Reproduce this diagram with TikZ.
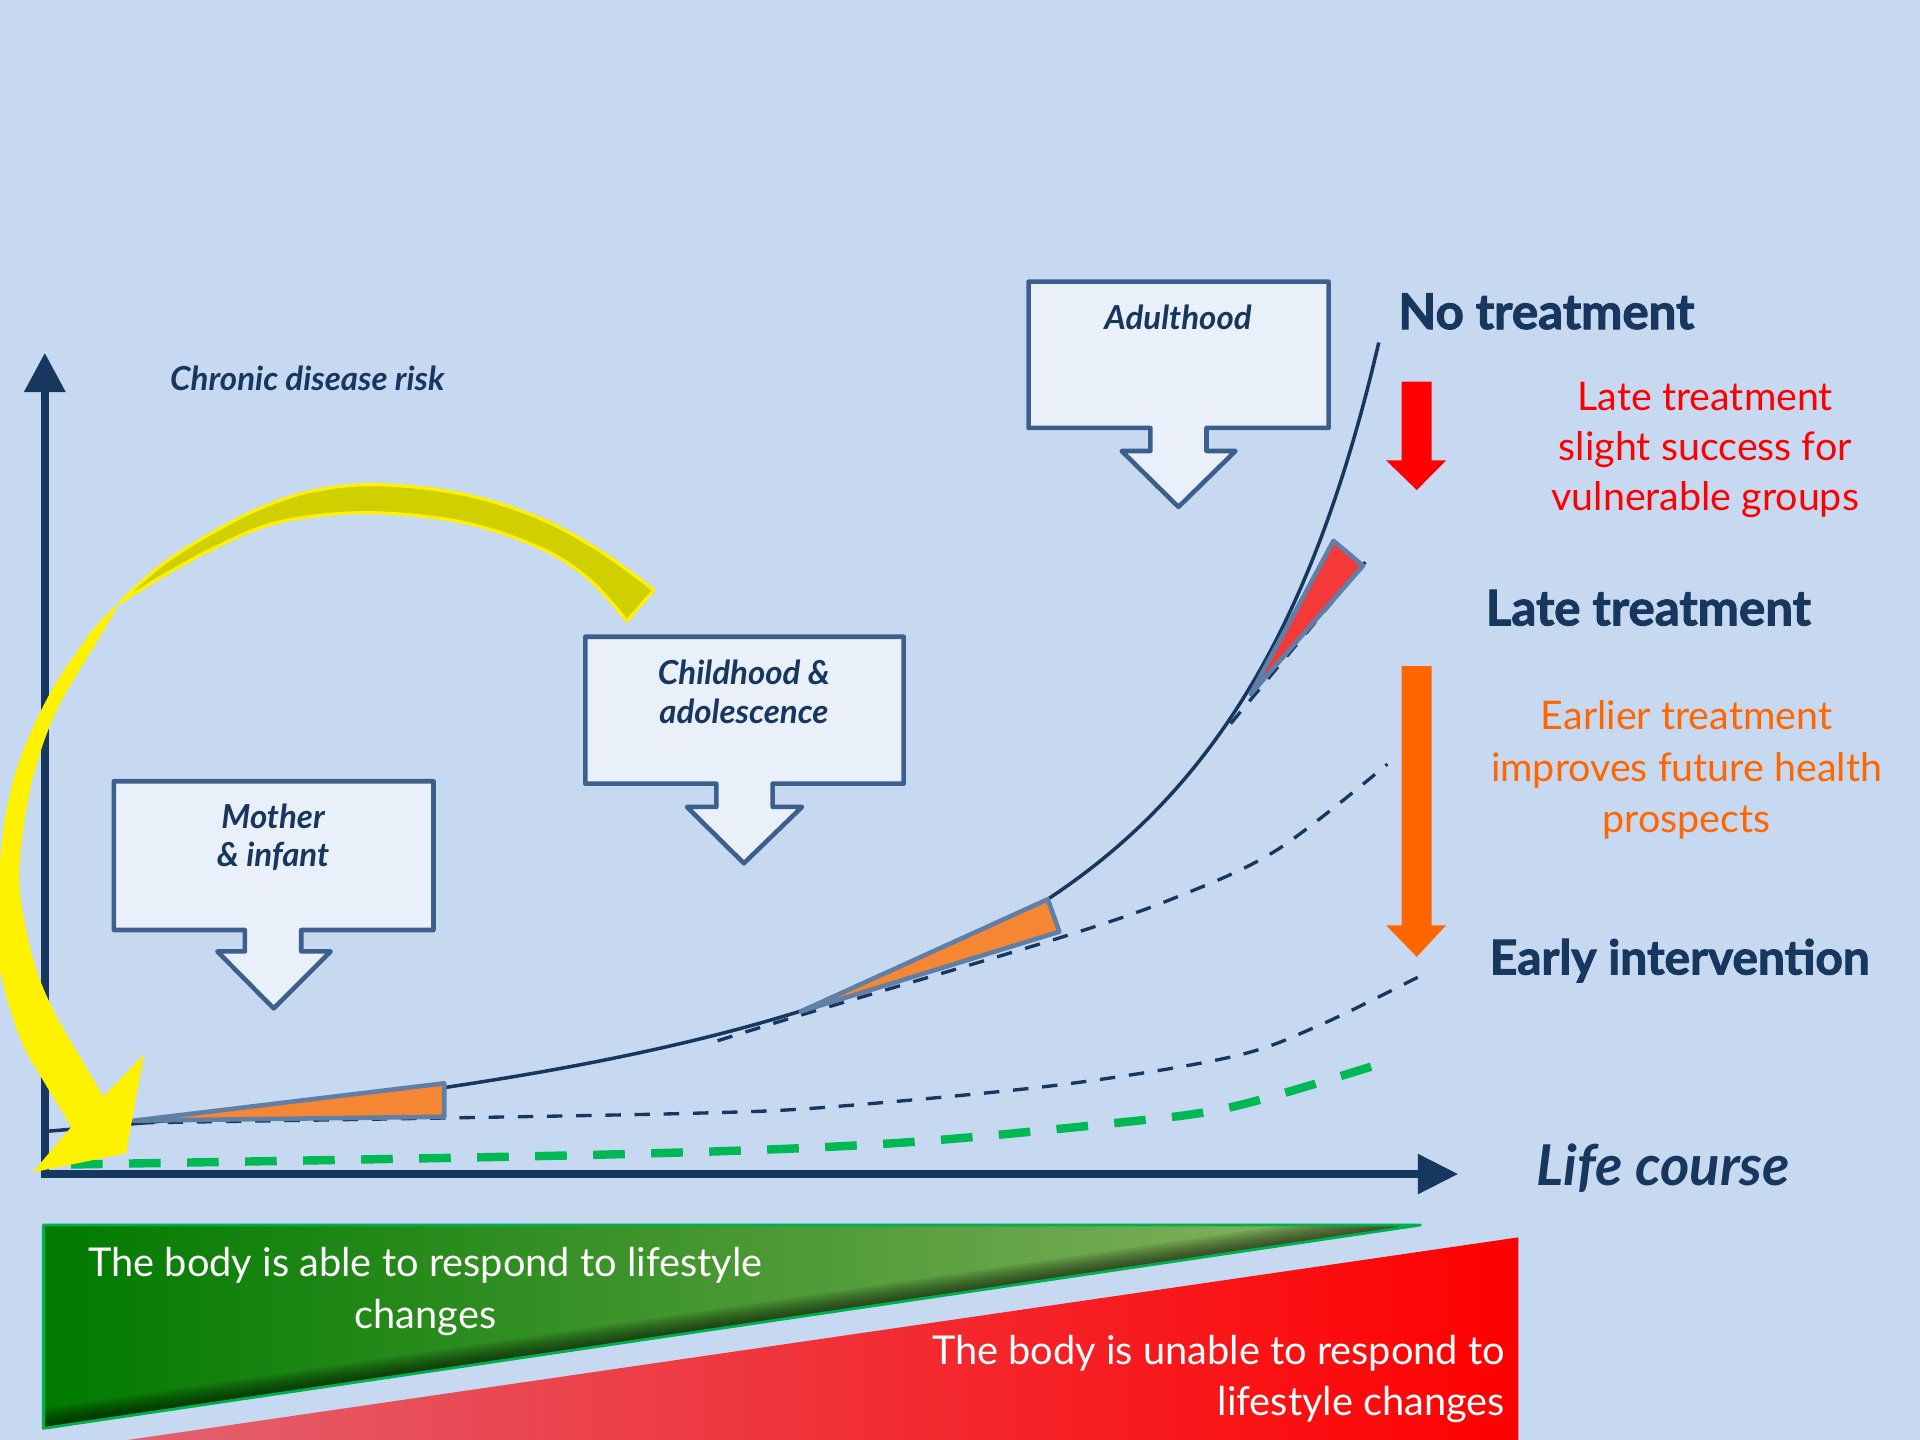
\documentclass[tikz,border=0pt]{standalone}
\usepackage{fontspec}
\setmainfont{Lato}
\newfontfamily\heavyfont{Lato}[FakeBold=2]
\usetikzlibrary{arrows.meta}
\definecolor{bg}{RGB}{198,217,241}
\definecolor{navy}{RGB}{23,55,94}
\definecolor{boxfill}{RGB}{233,240,250}
\definecolor{boxline}{RGB}{60,96,142}
\definecolor{triline}{RGB}{95,127,166}
\definecolor{triorange}{RGB}{245,134,52}
\definecolor{trired}{RGB}{245,56,56}
\definecolor{olivey}{RGB}{208,208,0}
\definecolor{dashgreen}{RGB}{0,184,84}
\definecolor{arrowred}{RGB}{255,0,0}
\definecolor{arroworange}{RGB}{255,102,0}
\definecolor{g1}{RGB}{0,122,0}
\definecolor{g2}{RGB}{60,148,44}
\definecolor{g3}{RGB}{143,182,100}
\definecolor{r1}{RGB}{255,0,0}
\definecolor{r2}{RGB}{226,98,112}
\definecolor{wedgeline}{RGB}{0,176,80}
\tikzset{
  lbl/.style={inner sep=0pt, outer sep=0pt},
  boxlabel/.style={lbl, align=center, text=navy, font=\fontsize{9.4}{11}\selectfont\bfseries\itshape},
  heavylabel/.style={lbl, anchor=base west, text=navy, font=\heavyfont\bfseries\fontsize{14}{16}\selectfont},
  callout/.style={fill=boxfill, draw=boxline, line width=1.3pt, line join=round},
  tri/.style={draw=triline, line width=1.3pt, line join=round},
  axisline/.style={navy, line width=2.4pt},
  solidcurve/.style={navy, line width=1pt},
  navydash/.style={navy, line width=0.95pt, dash pattern=on 4.4pt off 3.9pt},
  greendash/.style={dashgreen, line width=2.4pt, dash pattern=on 9pt off 7.5pt}
}
\begin{document}
\begin{tikzpicture}[x=0.012245cm, y=-0.012245cm]
\useasboundingbox (0,0) rectangle (1568,1176);
\fill[bg] (0,0) rectangle (1568,1176);

% bottom wedges
\shade[left color=r2, right color=r1] (104,1176) -- (1240,1010.5) -- (1240,1176) -- cycle;
\begin{scope}
\shade[left color=g1, middle color=g2, right color=g3] (35.4,1000.4) -- (1160,1000.4) -- (35.4,1166.5) -- cycle;
\clip (35.4,1000.4) -- (1160,1000.4) -- (35.4,1166.5) -- cycle;
\foreach \d in {2,4,...,16}
  \fill[black, opacity=0.09] (35.4,1166.5) -- (1160,1000.4) -- (1160,{1000.4-\d}) -- (35.4,{1166.5-\d}) -- cycle;
\end{scope}
\draw[wedgeline, line width=0.8pt, line join=round] (35.4,1000.4) -- (1160,1000.4) -- (35.4,1166.5) -- cycle;

\node[lbl, anchor=base, align=center, text=white, font=\fontsize{11.3}{14.7}\selectfont] (able) at (347.5,1084.8)
  {The body is able to respond to lifestyle\\changes};
\node[lbl, anchor=base east, align=right, text=white, font=\fontsize{11.3}{14.3}\selectfont] (unable) at (1229,1155.6)
  {The body is unable to respond to\\lifestyle changes};

% curves
\draw[greendash] plot[smooth, tension=0.55] coordinates {(58,951) (490,943) (724,934) (912,917) (1006,904) (1120,871)};
\draw[navydash] plot[smooth, tension=0.55] coordinates {(113,917) (365,913) (572,909) (678,904) (865,886) (1006,863) (1076,838) (1158,798)};
\draw[navydash] plot[smooth, tension=0.55] coordinates {(586,850) (654,829) (865,766) (960,733) (1043,694) (1133,624)};
\draw[navydash] (1005,591) -- (1115,459);
\draw[solidcurve] plot[domain=39:1126, samples=160, smooth] (\x, {1026.9 - 1300/((1300-\x)/100)});

% triangles
\fill[triorange, tri] (109.4,915.2) -- (362.8,884.7) -- (362.8,912) -- cycle;
\fill[triorange, tri] (654,826) -- (855.7,734.4) -- (865.1,760.9) -- cycle;
\fill[trired, tri] (1089,441.7) -- (1113.1,462) -- (1021.5,566.7) -- cycle;

% axes
\coordinate (O) at (36.6,958.8);
\coordinate (ytip) at (36.6,288);
\coordinate (xtip) at (1191,958.8);
\draw[axisline, -{Triangle[length=11.2pt,width=11.2pt]}] ([yshift=-1.2pt]O) -- (ytip);
\draw[axisline, -{Triangle[length=11.5pt,width=10.8pt]}] ([xshift=-1.2pt]O) -- (xtip);

% callout boxes
\draw[callout] (93,638) -- (354,638) -- (354,759.5) -- (246,759.5) -- (246,777) -- (270,777) -- (223.5,823.5) -- (177.5,777) -- (200,777) -- (200,759.5) -- (93,759.5) -- cycle;
\draw[callout] (478,520) -- (738,520) -- (738,640) -- (631,640) -- (631,659) -- (655,659) -- (607.5,705) -- (561,659) -- (585,659) -- (585,640) -- (478,640) -- cycle;
\draw[callout] (840,230) -- (1085,230) -- (1085,349.5) -- (985.3,349.5) -- (985.3,368.3) -- (1009,368.3) -- (962.4,414) -- (916,368.3) -- (939.5,368.3) -- (939.5,349.5) -- (840,349.5) -- cycle;
\node[boxlabel, anchor=base] (mother) at (223,708) {Mother\\\& infant};
\node[boxlabel, anchor=base] (child) at (607.5,591) {Childhood \&\\adolescence};
\node[boxlabel, anchor=base] (adult) at (962,269) {Adulthood};

% yellow curved arrow
\fill[olivey, draw=yellow, line width=0.9pt, line join=round]
  plot[smooth, tension=0.6] coordinates {(534,482) (490,450) (440,423) (380,404) (313,396) (260,400) (215,414) (170,437) (130,463) (98,492)}
  -- plot[smooth, tension=0.6] coordinates {(130,472) (170,450) (215,430) (260,421) (313,419) (380,427) (440,447) (480,472) (512,507)}
  -- cycle;
\fill[yellow]
  plot[smooth, tension=0.55] coordinates {(98,492) (76,514) (41,566) (16,621) (3,675) (-2,745) (0,792) (16,847) (35,882) (58.5,920)}
  -- (26.7,957.4) -- (102.9,941.9) -- (117.6,861)
  -- plot[smooth, tension=0.55] coordinates {(84.4,895.6) (65.3,863) (43.5,825) (27.2,784) (16.3,729) (17.7,688) (27,634.5) (46.3,580) (81.7,520) (98,492)}
  -- cycle;

% vertical arrows
\fill[arrowred] (1144.6,311.6) -- (1169.2,311.6) -- (1169.2,376) -- (1181,376) -- (1157,400.2) -- (1132,376) -- (1144.6,376) -- cycle;
\fill[arroworange] (1144.6,544) -- (1169.2,544) -- (1169.2,755.7) -- (1181,755.7) -- (1157,781.4) -- (1132,755.7) -- (1144.6,755.7) -- cycle;

% texts
\node[lbl, anchor=base west, text=navy, font=\fontsize{9.4}{11}\selectfont\bfseries\itshape] (risk) at (139,318.5) {Chronic disease risk};
\node[heavylabel] (notreat) at (1142,268.7) {No treatment};
\node[heavylabel] (latetreat) at (1213.4,510.7) {Late treatment};
\node[heavylabel, font=\heavyfont\bfseries\fontsize{13.6}{16}\selectfont] (early) at (1216.7,795.8) {Early intervention};
\node[lbl, anchor=base, align=center, text=arrowred, font=\fontsize{11.2}{14.3}\selectfont] (redtxt) at (1392.6,417)
  {Late treatment\\slight success for\\vulnerable groups};
\node[lbl, anchor=base, align=center, text=arroworange, font=\fontsize{11.2}{14.6}\selectfont] (orangetxt) at (1377.3,679.9)
  {Earlier treatment\\improves future health\\prospects};
\node[lbl, anchor=base west, text=navy, font=\fontsize{16}{18}\selectfont\bfseries\itshape] (life) at (1255,967.8) {Life course};
\end{tikzpicture}
\end{document}
